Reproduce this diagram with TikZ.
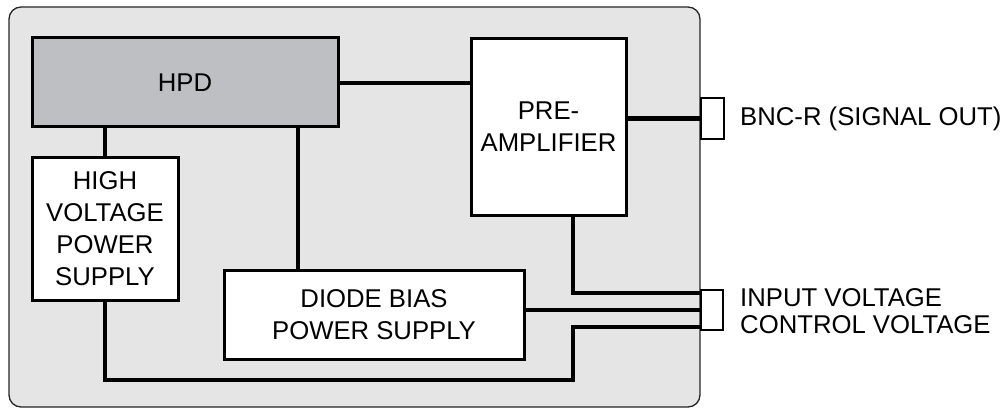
\documentclass[tikz,border=0pt]{standalone}
\usepackage{fontspec}
\setmainfont{Liberation Sans}
\begin{document}
\begin{tikzpicture}[x=1pt,y=-1pt,
  blk/.style={draw=black, line width=3pt, fill=white, inner sep=0pt, align=center,
    font=\fontsize{25.7}{32}\selectfont},
  wire/.style={draw=black, line width=4.6pt, line join=miter},
  conn/.style={draw=black, line width=1.2pt, fill=white, inner sep=0pt},
  lbl/.style={inner sep=0pt, align=left, font=\fontsize{25.7}{27}\selectfont}]
\useasboundingbox (0,0) rectangle (1006,409);
\node[draw=black!85, line width=1.3pt, fill=black!10, rounded corners=12pt,
  minimum width=691pt, minimum height=400pt, inner sep=0pt] (outer) at (354.5,207) {};
\node[blk, fill={rgb,255:red,190;green,191;blue,194}, minimum width=306pt, minimum height=89pt] (hpd) at (185,82.5) {HPD};
\node[blk, minimum width=155pt, minimum height=176pt] (pre) at (548.5,127) {PRE-\\AMPLIFIER};
\node[blk, minimum width=146pt, minimum height=143pt] (hv) at (105,228.5) {HIGH\\VOLTAGE\\POWER\\SUPPLY};
\node[blk, minimum width=300pt, minimum height=89pt] (dio) at (374,314.5) {DIODE BIAS\\POWER SUPPLY};
\node[conn, minimum width=23pt, minimum height=41pt] (bnc) at (712.5,118.5) {};
\node[conn, minimum width=22pt, minimum height=40pt] (pwr) at (712,310) {};
\node[lbl, anchor=west] (bnclbl) at (740,118.5) {BNC-R (SIGNAL OUT)};
\node[lbl, anchor=west] (pwrlbl) at (740,311) {INPUT VOLTAGE\\CONTROL VOLTAGE};
\coordinate (in1) at (701,293);
\coordinate (in2) at (701,310);
\coordinate (in3) at (701,327);
\coordinate (dtop) at (298,270);
\coordinate (pbot) at (573,215);
\coordinate (cbend) at (573,380);
\draw[wire] (hpd.east |- 0,83) -- (pre.west |- 0,83);
\draw[wire] (pre.east |- bnc.west) -- (bnc.west);
\draw[wire] (hv.north) -- (hv.north |- hpd.south);
\draw[wire] (dtop) -- (dtop |- hpd.south);
\draw[wire] (pbot) |- (in1);
\draw[wire] (dio.east |- in2) -- (in2);
\draw[wire] (in3) -| (cbend) -| (hv.south);
\end{tikzpicture}
\end{document}
